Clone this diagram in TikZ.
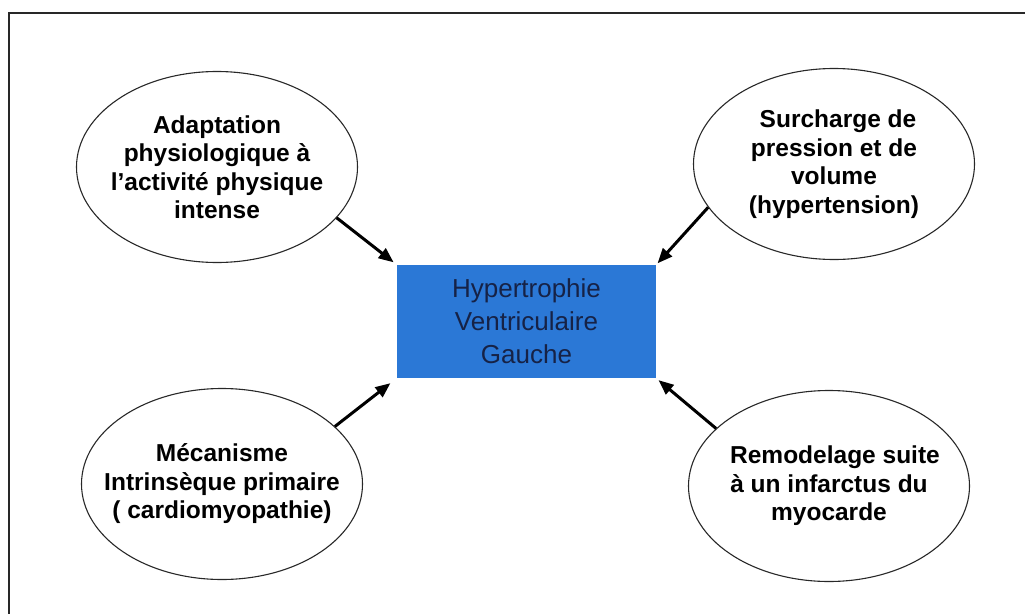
\documentclass[tikz,border=0pt]{standalone}
\usepackage{fontspec}
\setmainfont{Liberation Sans}
\usetikzlibrary{shapes.geometric,arrows.meta}
\definecolor{hvgblue}{RGB}{43,120,214}
\definecolor{hvgtext}{RGB}{22,34,70}
\definecolor{rim}{RGB}{40,40,40}
\tikzset{
  cause/.style={ellipse, draw=rim, line width=1.1pt, fill=white,
    minimum width=281pt, minimum height=191pt, inner xsep=-40pt, inner ysep=-30pt,
    align=center, font=\fontsize{24.5}{28.5}\selectfont\bfseries},
  centre/.style={rectangle, fill=hvgblue, minimum width=259pt, minimum height=113pt,
    inner sep=0pt, align=center, text=hvgtext,
    font=\fontsize{26}{33}\selectfont},
  arr/.style={line width=3pt, -{Triangle[length=15pt,width=12pt]}}
}
\begin{document}
\begin{tikzpicture}[x=1pt,y=-1pt]
\useasboundingbox (0,0) rectangle (1025,613);
% open frame: only the top and left edges show
\draw[line width=2pt, rim] (9,625) |- (1040,13);

\node[centre] (hvg) at (526.5,321.5) {Hypertrophie\\Ventriculaire\\Gauche};

\node[cause] (tl) at (217,167) {Adaptation\\physiologique à\\l’activité physique\\intense};
\node[cause] (tr) at (834,164) {\hspace*{8pt}Surcharge de\\pression et de\\volume\\(hypertension)};
\node[cause] (bl) at (222,484) {Mécanisme\\Intrinsèque primaire\\( cardiomyopathie)};
\node[cause] (br) at (829,486) {\hspace*{12pt}Remodelage suite\\à un infarctus du\\myocarde};

\draw[arr, shorten >=4pt] (tl.-23) -- (hvg.north west);
\draw[arr, shorten >=2pt] (tr.199) -- (hvg.north east);
\draw[arr, shorten >=8pt] (bl.27) -- (hvg.south west);
\draw[arr, shorten >=3pt] (br.153) -- (hvg.south east);
\end{tikzpicture}
\end{document}
